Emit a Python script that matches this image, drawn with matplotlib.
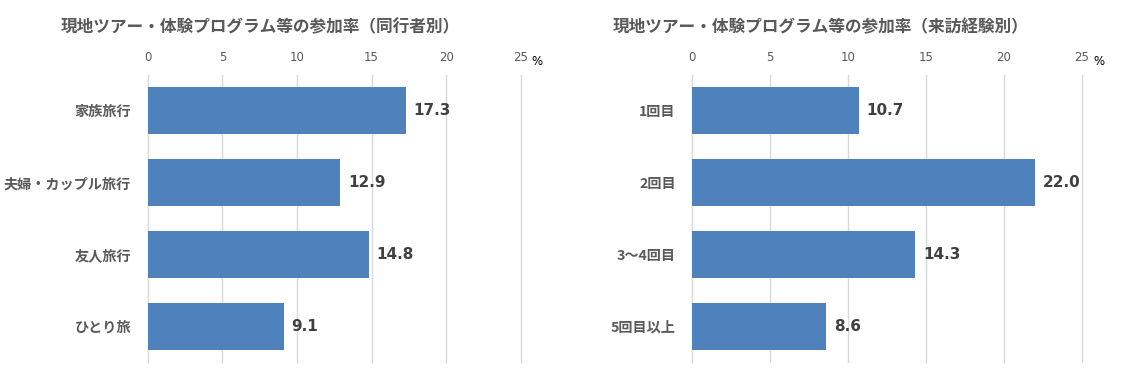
import numpy as np
import matplotlib.pyplot as plt

plt.rcParams['font.family'] = ['Noto Sans CJK JP', 'DejaVu Sans']

# data
companion_labels = ['家族旅行', '夫婦・カップル旅行', '友人旅行', 'ひとり旅']
companion_values = [17.3, 12.9, 14.8, 9.1]
visit_labels = ['1回目', '2回目', '3～4回目', '5回目以上']
visit_values = [10.7, 22.0, 14.3, 8.6]
x_ticks = [0, 5, 10, 15, 20, 25]

titles = ['現地ツアー・体験プログラム等の参加率（同行者別）',
          '現地ツアー・体験プログラム等の参加率（来訪経験別）']

BAR_COLOR = '#4F81BD'
GRID_COLOR = '#D9D9D9'
TEXT_COLOR = '#595959'
VALUE_COLOR = '#404040'

fig = plt.figure(figsize=(11.21, 3.84), dpi=100)

# axes rect, title x-centre
panels = [
    (companion_labels, companion_values, [0.1318, 0.0573, 0.3327, 0.7474], 0.232),
    (visit_labels, visit_values, [0.6176, 0.0573, 0.3476, 0.7474], 0.732),
]

for (labels, values, rect, title_x), title in zip(panels, titles):
    ax = fig.add_axes(rect)
    y = np.arange(len(labels))
    ax.barh(y, values, height=0.655, color=BAR_COLOR, zorder=3)
    ax.set_xlim(0, 25)
    ax.set_ylim(len(labels) - 0.5, -0.5)
    ax.set_yticks(y)
    ax.set_yticklabels(labels, fontsize=10.2, fontweight='bold', color=TEXT_COLOR)
    ax.set_xticks(x_ticks)
    ax.set_xticklabels([str(t) for t in x_ticks], fontsize=8.5, color=TEXT_COLOR,
                       family='DejaVu Sans')
    ax.xaxis.tick_top()
    ax.tick_params(axis='x', length=0, pad=8)
    ax.tick_params(axis='y', length=0, pad=12)
    for s in ax.spines.values():
        s.set_visible(False)
    ax.grid(axis='x', color=GRID_COLOR, linewidth=1, zorder=0)
    for gl in ax.get_xgridlines():
        gl.set_clip_on(False)
    ax.set_axisbelow(True)

    for yi, v in zip(y, values):
        ax.annotate(f'{v:.1f}', xy=(v, yi), xytext=(5.5, 0), textcoords='offset points',
                    va='center', ha='left', fontsize=11, fontweight='bold',
                    color=VALUE_COLOR, family='DejaVu Sans')

    ax.annotate('%', xy=(1, 1), xycoords='axes fraction', xytext=(12, 10),
                textcoords='offset points', ha='center', va='center',
                fontsize=8.5, color='#000000', family='DejaVu Sans')
    fig.text(title_x, 0.93, title, ha='center', va='center',
             fontsize=12, fontweight='bold', color=TEXT_COLOR)

fig.savefig('out.png', dpi=100)
